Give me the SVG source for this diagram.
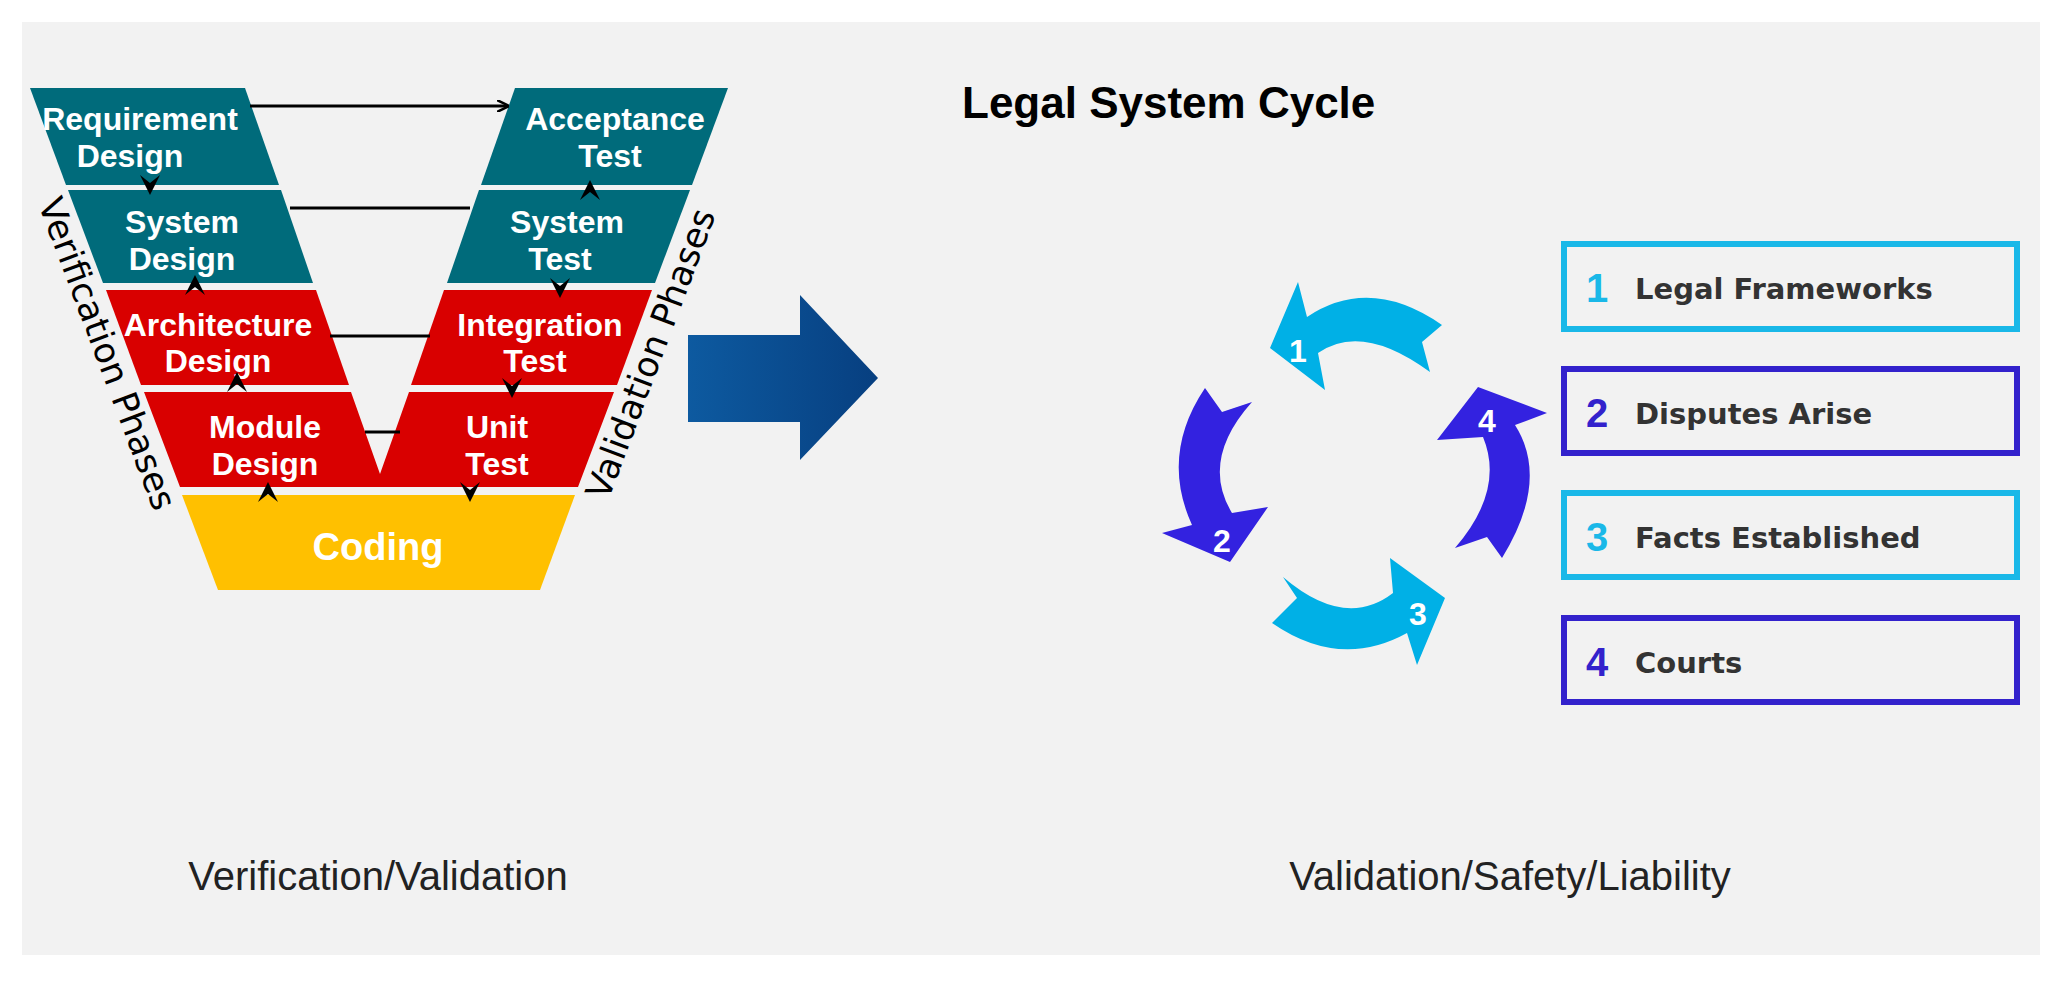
<svg xmlns="http://www.w3.org/2000/svg" xmlns:xlink="http://www.w3.org/1999/xlink" width="2063" height="982" viewBox="0 0 2063 982">
<defs>
<style>
.teal{fill:#006b7b}.red{fill:#d90000}.yel{fill:#ffc000}
.vt{font-family:"Liberation Sans",Arial,sans-serif;font-weight:bold;font-size:32px;fill:#fff;text-anchor:middle}
.side{font-family:"DejaVu Sans",sans-serif;font-size:35px;fill:#000;text-anchor:middle}
.ln{stroke:#000;stroke-width:3;fill:none}
.num{font-family:"Liberation Sans",Arial,sans-serif;font-weight:bold;font-size:32px;fill:#fff;text-anchor:middle}
.lg{font-family:"DejaVu Sans",sans-serif;font-weight:bold;font-size:29px;fill:#333}
.ln1{font-family:"Liberation Sans",Arial,sans-serif;font-weight:bold;font-size:40px}
.cap{font-family:"Liberation Sans",Arial,sans-serif;font-size:40px;fill:#222;text-anchor:middle}
.c1{fill:#00b0e6}.c2{fill:#3322e0}
</style>
<path id="ah" d="M0,0 L-10,-20 L0,-12 L10,-20 Z" fill="#000"/>
<marker id="arr" markerWidth="12" markerHeight="12" refX="10" refY="6" orient="auto" markerUnits="userSpaceOnUse"><path d="M0,0 L12,6 L0,12" fill="none" stroke="#000" stroke-width="2.5"/></marker>
<linearGradient id="bg" x1="0" y1="0" x2="1" y2="0"><stop offset="0" stop-color="#0d5aa0"/><stop offset="1" stop-color="#073f80"/></linearGradient>
</defs>
<rect width="2063" height="982" fill="#fff"/>
<rect x="22" y="22" width="2018" height="933" fill="#f2f2f2"/>

<g id="req"><polygon class="teal" points="30,88 245,88 279,185 66,185"/><text class="vt" x="140" y="130">Requirement</text><text class="vt" x="130" y="167">Design</text></g>
<g id="sysd"><polygon class="teal" points="68,190 281,190 313,283 103,283"/><text class="vt" x="182" y="233">System</text><text class="vt" x="182" y="270">Design</text></g>
<g id="arch"><polygon class="red" points="106,290 316,290 349,385 141,385"/><text class="vt" x="218" y="336">Architecture</text><text class="vt" x="218" y="372">Design</text></g>
<g id="mod"><polygon class="red" points="144,392 351,392 380,474 409,392 614,392 578,487 180,487"/><text class="vt" x="265" y="438">Module</text><text class="vt" x="265" y="475">Design</text><text class="vt" x="497" y="438">Unit</text><text class="vt" x="497" y="475">Test</text></g>
<g id="acc"><polygon class="teal" points="515,88 728,88 692,185 481,185"/><text class="vt" x="615" y="130">Acceptance</text><text class="vt" x="610" y="167">Test</text></g>
<g id="syst"><polygon class="teal" points="479,190 690,190 655,283 447,283"/><text class="vt" x="567" y="233">System</text><text class="vt" x="560" y="270">Test</text></g>
<g id="integ"><polygon class="red" points="444,290 652,290 617,385 411,385"/><text class="vt" x="540" y="336">Integration</text><text class="vt" x="535" y="372">Test</text></g>
<g id="coding"><polygon class="yel" points="182,495 575,495 540,590 218,590"/><text class="vt" x="378" y="560" style="font-size:38px">Coding</text></g>

<text class="side" transform="translate(96,358) rotate(69.4)">Verification Phases</text>
<text class="side" transform="translate(662,358) rotate(-69.4)">Validation Phases</text>

<g id="connectors">
<line class="ln" x1="250" y1="106" x2="507" y2="106" marker-end="url(#arr)"/>
<line class="ln" x1="290" y1="208" x2="470" y2="208"/>
<line class="ln" x1="330" y1="336" x2="430" y2="336"/>
<line class="ln" x1="365" y1="432" x2="400" y2="432"/>
<use xlink:href="#ah" transform="translate(150,195)"/>
<use xlink:href="#ah" transform="translate(195,275) rotate(180)"/>
<use xlink:href="#ah" transform="translate(237,372) rotate(180)"/>
<use xlink:href="#ah" transform="translate(268,482) rotate(180)"/>
<use xlink:href="#ah" transform="translate(590,180) rotate(180)"/>
<use xlink:href="#ah" transform="translate(560,298)"/>
<use xlink:href="#ah" transform="translate(512,398)"/>
<use xlink:href="#ah" transform="translate(470,502)"/>
<polygon fill="url(#bg)" points="688,335 800,335 800,295 878,378 800,460 800,422 688,422"/>
</g>

<text class="ln1" x="962" y="118" style="font-size:44px">Legal System Cycle</text>

<g id="cycle">
<path class="c1" d="M1442,325 Q1370,275 1307,317 L1298,282 L1270,348 L1325,390 L1318,353 Q1362,322 1430,372 L1422,342 Z"/>
<path class="c2" d="M1205,388 L1222,412 L1252,402 Q1200,460 1232,513 L1268,507 L1230,562 L1162,533 L1192,525 Q1160,455 1205,388 Z"/>
<path class="c1" d="M1283,577 L1297,598 L1272,623 Q1340,670 1407,633 L1417,665 L1445,598 L1390,558 L1393,593 Q1345,630 1283,577 Z"/>
<path class="c2" d="M1455,548 L1487,537 L1502,558 Q1550,480 1515,425 L1547,413 L1478,387 L1437,440 L1483,437 Q1505,490 1455,548 Z"/>
<text class="num" x="1298" y="362">1</text>
<text class="num" x="1222" y="552">2</text>
<text class="num" x="1418" y="625">3</text>
<text class="num" x="1487" y="432">4</text>
</g>

<g id="leg1"><rect x="1564" y="244" width="453" height="85" fill="none" stroke="#1ab8e8" stroke-width="6"/><text class="ln1" x="1586" y="302" fill="#1ab8e8">1</text><text class="lg" x="1635" y="299">Legal Frameworks</text></g>
<g id="leg2"><rect x="1564" y="369" width="453" height="84" fill="none" stroke="#3322cc" stroke-width="6"/><text class="ln1" x="1586" y="427" fill="#3322cc">2</text><text class="lg" x="1635" y="424">Disputes Arise</text></g>
<g id="leg3"><rect x="1564" y="493" width="453" height="84" fill="none" stroke="#1ab8e8" stroke-width="6"/><text class="ln1" x="1586" y="551" fill="#1ab8e8">3</text><text class="lg" x="1635" y="548">Facts Established</text></g>
<g id="leg4"><rect x="1564" y="618" width="453" height="84" fill="none" stroke="#3322cc" stroke-width="6"/><text class="ln1" x="1586" y="676" fill="#3322cc">4</text><text class="lg" x="1635" y="673">Courts</text></g>

<text class="cap" x="378" y="890">Verification/Validation</text>
<text class="cap" x="1510" y="890">Validation/Safety/Liability</text>
</svg>
